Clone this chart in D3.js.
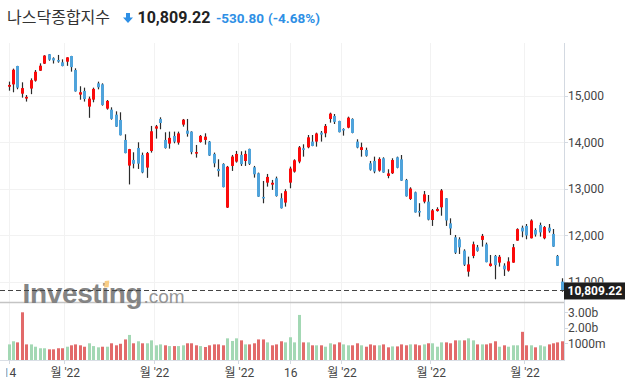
<!DOCTYPE html>
<html>
<head>
<meta charset="utf-8">
<script src="https://cdn.jsdelivr.net/npm/d3@7"></script>
<style>
  body { margin: 0; background: #fff; }
  svg { display: block; }
</style>
</head>
<body>
<svg id="chart" width="629" height="387"></svg>
<script>
// NASDAQ Composite, daily, 14 Dec 2021 .. 13 Jun 2022 (index = trading day)
const opens = [15200,15250,15647,15050,14945,15160,15330,15545,15697,15900,15815,15776,15726,15740,15862,15560,15030,15108,14771,14921,
  15273,15252,14728,14706,14598,14484,14053,13500,13622,13880,13730,13457,13816,14297,14505,14053,13974,14139,13995,14383,
  14254,14232,13758,14010,14053,14017,13751,13428,13536,12595,13493,13586,13730,13600,13859,13464,13335,12825,13133,13090,
  13227,12796,12703,13133,13370,13586,13873,13894,14017,14017,14210,14196,14505,14569,14462,14289,14318,14505,14017,13837,
  13837,13550,13600,13392,13658,13277,13335,13679,13636,13191,12781,12925,12522,12723,12723,12328,12522,12601,12795,12256,
  11955,11912,11668,11215,11553,11739,11898,11804,11337,11553,11409,11345,11237,11409,11883,12163,12199,11934,12113,12220,
  11934,12163,12027,11553,11000];
const highs = [15310,15590,15650,15295,15020,15380,15560,15704,15880,15905,15833,15885,15790,15835,15865,15597,15210,15180,14987,15180,
  15309,15273,14914,14756,14670,14649,14175,13860,13787,14002,13780,13794,14355,14376,14541,14218,14232,14232,14232,14505,
  14505,14240,13945,14160,14196,14031,13780,13636,13550,13493,13730,13816,13808,13823,13865,13493,13349,13169,13320,13191,
  13263,12904,12990,13478,13636,13923,13959,14160,14160,14210,14246,14397,14641,14612,14466,14304,14555,14519,14067,13995,
  13887,13600,13693,13679,13679,13421,13658,13693,13729,13213,13033,12939,12690,12953,12867,12565,12601,12996,12800,12364,
  12005,11955,11696,11538,11862,11790,12027,11840,11574,11574,11574,11395,11524,11811,12149,12206,12242,12343,12149,12271,
  12199,12242,12134,11574,11072];
const lows = [15115,15080,15145,14965,14880,15040,15310,15540,15690,15760,15700,15718,15640,15650,15525,15094,14920,14880,14530,14864,
  15144,14792,14706,14490,14335,14150,13765,13094,13440,13428,13335,13236,13780,14082,14283,13866,13866,13981,13952,14340,
  14124,13744,13672,13995,13952,13710,13464,13263,13030,12587,13385,13564,13493,13493,13514,13241,12828,12688,13047,12976,
  12832,12575,12616,13011,13349,13550,13693,13873,13918,13909,14017,14110,14426,14397,14215,14146,14304,14196,13873,13693,
  13693,13392,13335,13370,13345,13227,13320,13442,13170,12832,12760,12488,12400,12687,12320,12200,12508,12420,12200,12005,
  11596,11596,11337,11108,11503,11646,11754,11416,11323,11050,11323,11122,11215,11405,11880,11955,11912,11930,11970,11970,
  11912,12055,11750,11337,10780];
const closes = [15238,15566,15180,15170,14981,15341,15522,15653,15871,15782,15766,15741,15645,15833,15623,15100,15081,14936,14943,15153,
  15188,14807,14894,14507,14340,14154,13769,13855,13539,13542,13353,13770,14240,14346,14418,13879,14098,14016,14194,14490,
  14186,13791,13791,14140,14124,13717,13548,13382,13037,13474,13695,13751,13532,13752,13538,13313,12831,12796,13256,13130,
  12844,12581,12949,13437,13615,13894,13838,14109,13923,14192,14169,14355,14620,14442,14221,14262,14533,14204,13889,13897,
  13711,13412,13372,13644,13351,13332,13620,13453,13175,12839,13005,12491,12489,12880,12335,12536,12564,12965,12318,12145,
  11623,11738,11364,11371,11805,11663,11985,11418,11389,11355,11535,11264,11435,11741,12131,12081,11994,12317,12013,12061,
  12175,12086,11754,11340,10809.22];
// volume in billions
const volumes = [0.93,1.13,1.06,3.00,0.93,0.93,0.78,0.68,0.68,0.61,0.61,0.68,0.68,0.78,0.87,0.93,0.87,0.78,1.00,0.82,
  0.74,0.78,0.78,1.00,0.87,0.97,1.25,1.54,1.00,1.13,1.00,1.00,1.19,0.87,0.93,0.87,0.82,0.82,0.82,0.87,
  1.00,1.00,0.87,0.82,0.76,0.87,0.93,0.93,0.87,1.32,1.15,1.32,1.19,0.93,0.93,1.00,1.25,1.25,1.06,0.87,
  0.93,1.13,1.06,1.39,1.06,2.83,1.06,1.06,0.87,0.87,0.87,0.78,1.00,0.93,1.06,0.93,0.87,0.87,1.00,0.87,
  0.78,0.93,0.87,0.87,0.93,0.74,0.80,0.80,0.93,0.87,0.93,0.93,0.87,0.93,1.00,1.00,0.78,1.06,1.06,1.00,
  1.19,1.19,1.19,1.32,1.19,0.93,0.93,0.93,1.00,1.13,0.78,0.87,0.78,0.87,0.87,1.74,0.87,0.87,0.74,0.87,
  0.80,0.93,1.00,1.06,1.13];

const priceTicks = [11000, 12000, 13000, 14000, 15000];
const volumeTicks = [1, 2, 3];
const volumeTickLabels = ['1000m', '2.00b', '3.00b'];
// month ticks sit half a day before the first session of the month
const xTickPos = [0, 12.5, 32.5, 51.5, 63, 74.5, 94.5, 115.5];
const xTickLabels = ['14', "월 '22", "월 '22", "월 '22", '16', "월 '22", "월 '22", "월 '22"];

const lastPrice = 10809.22;
const title = '나스닥종합지수';
const changeText = '-530.80';
const changePct = '(-4.68%)';

const latin = 'Roboto, "Noto Sans CJK KR", sans-serif';
const plotRight = 564;

const svg = d3.select('#chart');

const x = d3.scaleLinear().domain([0, 124]).range([8.5, 561.9]);
const y = d3.scaleLinear().domain([11000, 15000]).range([281.6, 96]);
const yVol = d3.scaleLinear().domain([0, 3]).range([358.8, 312.3]);
const tagTop = y(lastPrice) - 8;

const defs = svg.append('defs');
defs.append('clipPath').attr('id', 'priceClip')
  .append('rect').attr('x', 0).attr('y', 40).attr('width', plotRight).attr('height', 262);
defs.append('clipPath').attr('id', 'volClip')
  .append('rect').attr('x', 0).attr('y', 303).attr('width', plotRight).attr('height', 57);
defs.append('clipPath').attr('id', 'labelClip')
  .append('rect').attr('x', 6.5).attr('y', 360).attr('width', 560).attr('height', 27);
defs.append('clipPath').attr('id', 'axisClip')
  .append('rect').attr('x', plotRight).attr('y', 40).attr('width', 65).attr('height', tagTop - 40);

// header
const header = svg.append('g');
header.append('text')
  .attr('x', 7).attr('y', 23)
  .style('font-family', '"Noto Sans CJK KR", sans-serif')
  .style('font-size', '16px')
  .attr('fill', '#333')
  .text(title);
header.append('path')
  .attr('d', 'M126,13 h4 v4.5 h3 l-5,5.5 l-5,-5.5 h3 z')
  .attr('fill', '#2e8fe5');
header.append('text')
  .attr('x', 137.5).attr('y', 23)
  .style('font-family', latin).style('font-size', '16px').style('font-weight', 'bold')
  .attr('fill', '#222')
  .text(d3.format(',.2f')(lastPrice));
header.append('text')
  .attr('x', 216).attr('y', 23)
  .style('font-family', latin).style('font-size', '13.5px').style('font-weight', 'bold')
  .attr('fill', '#2e8fe5')
  .text(changeText);
header.append('text')
  .attr('x', 268).attr('y', 23)
  .style('font-family', latin).style('font-size', '13.5px').style('font-weight', 'bold')
  .attr('fill', '#2e8fe5')
  .text(changePct);

// grid
const grid = svg.append('g');
grid.selectAll('.hgrid')
  .data(priceTicks)
  .enter()
  .append('line')
  .attr('x1', 0).attr('x2', plotRight)
  .attr('y1', d => Math.round(y(d)) + 0.5).attr('y2', d => Math.round(y(d)) + 0.5)
  .attr('stroke', '#f2f2f2');
grid.selectAll('.vgrid')
  .data(xTickPos)
  .enter()
  .append('line')
  .attr('x1', d => Math.round(x(d)) + 0.5).attr('x2', d => Math.round(x(d)) + 0.5)
  .attr('y1', 43).attr('y2', 360)
  .attr('stroke', '#f2f2f2');

// candles
const idx = d3.range(closes.length);
const candles = svg.append('g').attr('clip-path', 'url(#priceClip)');
candles.selectAll('.wick')
  .data(idx)
  .enter()
  .append('line')
  .attr('x1', i => Math.round(x(i)) + 0.5).attr('x2', i => Math.round(x(i)) + 0.5)
  .attr('y1', i => y(highs[i])).attr('y2', i => y(lows[i]))
  .attr('stroke', '#2b2b2b')
  .attr('stroke-width', 1.2);
candles.selectAll('.body')
  .data(idx)
  .enter()
  .append('rect')
  .attr('x', i => Math.round(x(i)) - 1)
  .attr('width', 3)
  .attr('y', i => y(Math.max(opens[i], closes[i])))
  .attr('height', i => Math.max(1.5, Math.abs(y(opens[i]) - y(closes[i]))))
  .attr('fill', i => closes[i] >= opens[i] ? '#fb0a0a' : '#4fa3db');

// volume
const vols = svg.append('g').attr('clip-path', 'url(#volClip)');
vols.selectAll('rect')
  .data(idx)
  .enter()
  .append('rect')
  .attr('x', i => Math.round(x(i)) - 1)
  .attr('width', 3)
  .attr('y', i => yVol(volumes[i]))
  .attr('height', i => yVol(0) - yVol(volumes[i]) + 1.2)
  .attr('fill', i => {
    const up = i === 0 ? closes[i] > opens[i] : closes[i] > closes[i - 1];
    return up ? '#a3d8b4' : '#e26a6a';
  });

// pane frame
svg.append('line')
  .attr('x1', 0).attr('x2', plotRight).attr('y1', 302.5).attr('y2', 302.5)
  .attr('stroke', '#c4c4c4').attr('stroke-width', 1.3);
svg.append('line')
  .attr('x1', 0).attr('x2', plotRight).attr('y1', 360.5).attr('y2', 360.5)
  .attr('stroke', '#dadfe6');
svg.append('line')
  .attr('x1', plotRight + 0.5).attr('x2', plotRight + 0.5).attr('y1', 43).attr('y2', 361)
  .attr('stroke', '#d3d9e1');

// right price axis (the last-price tag hides the lower part of 11,000)
const yAxis = svg.append('g');
yAxis.selectAll('.tick')
  .data(priceTicks)
  .enter()
  .append('line')
  .attr('x1', plotRight).attr('x2', plotRight + 4)
  .attr('y1', d => Math.round(y(d)) + 0.5).attr('y2', d => Math.round(y(d)) + 0.5)
  .attr('stroke', '#d3d9e1');
yAxis.append('g').attr('clip-path', 'url(#axisClip)')
  .selectAll('text')
  .data(priceTicks)
  .enter()
  .append('text')
  .attr('x', 568).attr('y', d => y(d) + 4.3)
  .style('font-family', latin).style('font-size', '12px')
  .attr('fill', '#444')
  .text(d => d3.format(',')(d));

// volume axis
const vAxis = svg.append('g');
vAxis.selectAll('line')
  .data(volumeTicks)
  .enter()
  .append('line')
  .attr('x1', plotRight).attr('x2', plotRight + 4)
  .attr('y1', d => Math.round(yVol(d)) + 0.5).attr('y2', d => Math.round(yVol(d)) + 0.5)
  .attr('stroke', '#d3d9e1');
vAxis.selectAll('text')
  .data(volumeTicks)
  .enter()
  .append('text')
  .attr('x', 568).attr('y', d => yVol(d) + 4.3)
  .style('font-family', latin).style('font-size', '12px')
  .attr('fill', '#444')
  .text((d, i) => volumeTickLabels[i]);

// x axis labels
const xAxis = svg.append('g').attr('clip-path', 'url(#labelClip)');
xAxis.selectAll('line')
  .data(xTickPos)
  .enter()
  .append('line')
  .attr('x1', d => Math.round(x(d)) + 0.5).attr('x2', d => Math.round(x(d)) + 0.5)
  .attr('y1', 360).attr('y2', 364)
  .attr('stroke', '#d3d9e1');
xAxis.selectAll('text')
  .data(xTickPos)
  .enter()
  .append('text')
  .attr('x', d => x(d) + 1).attr('y', 377)
  .attr('text-anchor', 'middle')
  .style('font-family', latin).style('font-size', '12px')
  .attr('fill', '#444')
  .text((d, i) => xTickLabels[i]);

// watermark
const mark = svg.append('g').attr('opacity', 0.92);
mark.append('text')
  .attr('x', 22.5).attr('y', 303.3)
  .style('font-family', '"Liberation Sans", Arial, sans-serif')
  .style('font-size', '28px').style('font-weight', 'bold')
  .style('letter-spacing', '-0.35px')
  .attr('fill', '#7b7b7b')
  .text('Investing');
mark.append('path')
  .attr('d', 'M104,287.5 L104.8,281 L109.3,280.6 L108.6,287.2 Z')
  .attr('fill', '#f9c97a');
mark.append('text')
  .attr('x', 143.5).attr('y', 303.3)
  .style('font-family', '"Liberation Sans", Arial, sans-serif')
  .style('font-size', '19px')
  .attr('fill', '#8d8d8d')
  .text('.com');

// last price line and tag
svg.append('line')
  .attr('x1', 0).attr('x2', plotRight)
  .attr('y1', Math.round(y(lastPrice)) + 0.5).attr('y2', Math.round(y(lastPrice)) + 0.5)
  .attr('stroke', '#444')
  .attr('stroke-dasharray', '5,3');
svg.append('rect')
  .attr('x', 564).attr('y', tagTop)
  .attr('width', 61).attr('height', 17)
  .attr('fill', '#1e1e1e');
svg.append('text')
  .attr('x', 567.5).attr('y', y(lastPrice) + 4.5)
  .style('font-family', latin).style('font-size', '12px').style('font-weight', 'bold')
  .attr('fill', '#fff')
  .text(d3.format(',.2f')(lastPrice));
</script>
</body>
</html>
